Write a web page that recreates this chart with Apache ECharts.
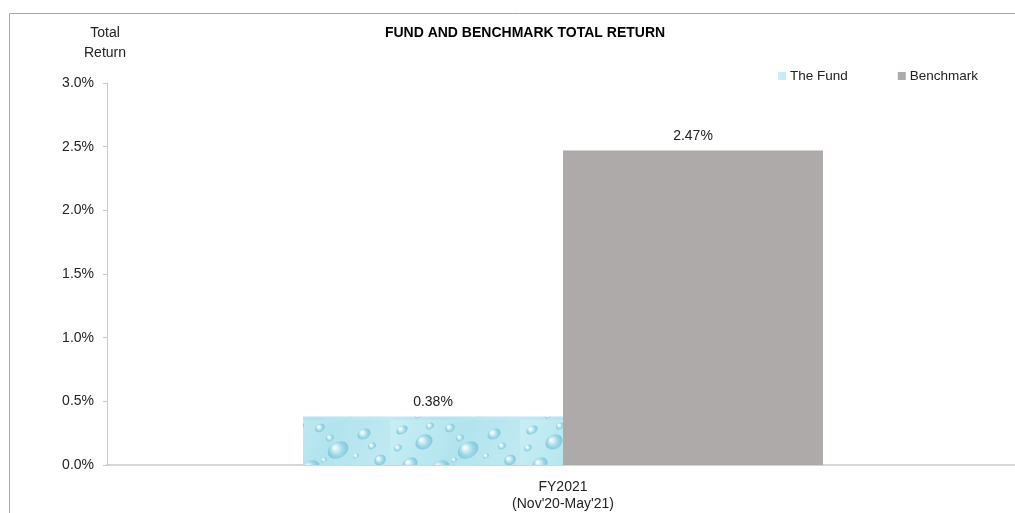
<!DOCTYPE html>
<html>
<head>
<meta charset="utf-8">
<script src="https://cdn.jsdelivr.net/npm/echarts@6/dist/echarts.min.js"></script>
<style>
html,body{margin:0;padding:0;background:#fff;}
#main{width:1015px;height:513px;}
</style>
</head>
<body>
<div id="main"></div>
<script>
var categories = ["FY2021\n(Nov'20-May'21)"];
var seriesNames = ['The Fund', 'Benchmark'];
var fundValues = [0.38];
var benchmarkValues = [2.47];
var yTicks = [0, 0.5, 1.0, 1.5, 2.0, 2.5, 3.0];

// water-droplet texture for the fund bar
function makeDropPattern() {
  var c = document.createElement('canvas');
  c.width = 130; c.height = 60;
  var g = c.getContext('2d');
  var bg = g.createLinearGradient(0, 0, 130, 60);
  bg.addColorStop(0, '#c8eef5');
  bg.addColorStop(0.5, '#b2e4ee');
  bg.addColorStop(1, '#c2eaf3');
  g.fillStyle = bg;
  g.fillRect(0, 0, 130, 60);
  var drops = [[12,10,6,4],[34,22,9,7],[60,8,5,4],[78,30,11,8],[104,14,7,5],[120,40,6,5],[20,44,8,6],[50,48,10,7],[92,52,6,4],[70,18,4,3],[8,28,4,3],[112,26,4,3],[40,6,4,3],[64,40,3,2],[96,36,3,2],[28,56,3,2]];
  drops.forEach(function(d){
    var x=d[0], y=d[1], rx=d[2], ry=d[3];
    var rg = g.createRadialGradient(x - rx*0.3, y - ry*0.3, 1, x, y, rx);
    rg.addColorStop(0, '#eefafd');
    rg.addColorStop(0.55, '#9fd8e6');
    rg.addColorStop(1, '#7cc6d9');
    g.fillStyle = rg;
    g.beginPath();
    g.ellipse(x, y, rx, ry, -0.5, 0, Math.PI*2);
    g.fill();
  });
  return c;
}
var fundColor = { image: makeDropPattern(), repeat: 'repeat' };

var chart = echarts.init(document.getElementById('main'));
var fontFam = '"Liberation Sans", Arial, sans-serif';
chart.setOption({
  backgroundColor: '#ffffff',
  animation: false,
  textStyle: { fontFamily: fontFam },
  graphic: [{
    type: 'rect',
    shape: { x: 9.5, y: 13.5, width: 1020, height: 520 },
    style: { fill: 'none', stroke: '#a6a6a6', lineWidth: 1 },
    silent: true
  }],
  title: {
    text: 'FUND AND BENCHMARK TOTAL RETURN',
    left: 520, top: 21, textAlign: 'center',
    textStyle: { fontSize: 14, fontWeight: 'bold', color: '#000', fontFamily: fontFam }
  },
  legend: {
    data: seriesNames,
    left: 773, top: 64,
    itemWidth: 8, itemHeight: 8, itemGap: 50,
    icon: 'rect',
    textStyle: { fontSize: 13.5, color: '#222', fontFamily: fontFam, padding: [0,0,0,-1] }
  },
  grid: { left: 107, top: 83, width: 912, height: 382, containLabel: false, outerBoundsMode: 'none' },
  xAxis: {
    type: 'category',
    data: categories,
    axisLine: { show: true, lineStyle: { color: '#c8c8c8', width: 1.5 } },
    axisTick: { show: false },
    axisLabel: { color: '#222', fontSize: 14, lineHeight: 17, margin: 14, fontFamily: fontFam }
  },
  yAxis: {
    type: 'value',
    min: yTicks[0], max: yTicks[yTicks.length-1], interval: 0.5,
    name: 'Total\nReturn',
    nameLocation: 'end',
    nameGap: 20,
    nameTextStyle: { color: '#222', fontSize: 14, lineHeight: 20, align: 'center', fontFamily: fontFam, padding: [0, 0, 0, -4] },
    axisLine: { show: true, lineStyle: { color: '#c8c8c8', width: 1 } },
    axisTick: { show: true, length: 4, lineStyle: { color: '#c8c8c8' } },
    splitLine: { show: false },
    axisLabel: { color: '#222', fontSize: 14, margin: 13, fontFamily: fontFam,
      formatter: function(v){ return v.toFixed(1) + '%'; } }
  },
  series: [
    {
      name: seriesNames[0], type: 'bar', data: fundValues,
      barGap: '0%', barWidth: 260,
      itemStyle: { color: fundColor },
      label: { show: true, position: 'top', distance: 7, color: '#222', fontSize: 14, fontFamily: fontFam,
        formatter: function(p){ return p.value.toFixed(2) + '%'; } }
    },
    {
      name: seriesNames[1], type: 'bar', data: benchmarkValues,
      barGap: '0%', barWidth: 260,
      itemStyle: { color: '#aeaaaa' },
      label: { show: true, position: 'top', distance: 7, color: '#222', fontSize: 14, fontFamily: fontFam,
        formatter: function(p){ return p.value.toFixed(2) + '%'; } }
    }
  ]
});
</script>
</body>
</html>
